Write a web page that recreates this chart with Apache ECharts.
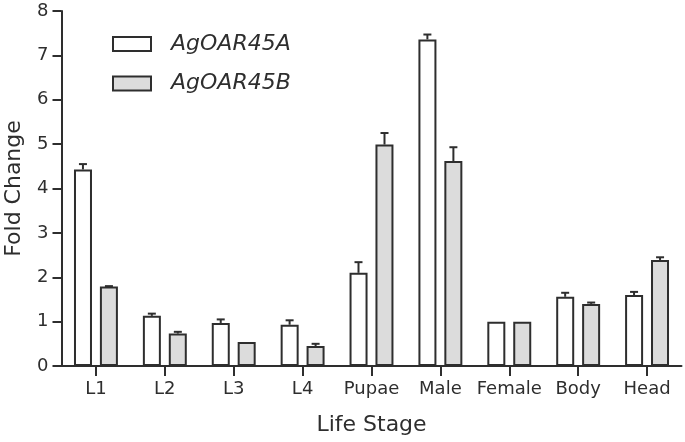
<!DOCTYPE html>
<html>
<head>
<meta charset="utf-8">
<script src="https://cdn.jsdelivr.net/npm/echarts@6/dist/echarts.min.js"></script>
<style>html,body{margin:0;padding:0;background:#fff;}#chart{width:685px;height:442px;}</style>
</head>
<body>
<div id="chart"></div>
<script>
const categories = ['L1', 'L2', 'L3', 'L4', 'Pupae', 'Male', 'Female', 'Body', 'Head'];
const seriesNames = ['AgOAR45A', 'AgOAR45B'];
const valuesA = [4.43, 1.13, 0.97, 0.93, 2.10, 7.36, 1.00, 1.56, 1.60];
const errorA  = [0.12, 0.05, 0.08, 0.10, 0.24, 0.11, 0.00, 0.09, 0.07];
const valuesB = [1.79, 0.73, 0.54, 0.45, 4.99, 4.62, 1.00, 1.40, 2.39];
const errorB  = [0.01, 0.04, 0.00, 0.05, 0.26, 0.31, 0.00, 0.03, 0.06];
const yTicks = [0, 1, 2, 3, 4, 5, 6, 7, 8];

const FONT = 'DejaVu Sans';
const INK = '#2e2e2e';
const BAR_W = 18, OFFSET = 13;

function errorSeries(vals, errs, off) {
  return {
    type: 'custom',
    silent: true,
    z: 5,
    data: vals.map((v, i) => [i, v, errs[i]]),
    renderItem: function (params, api) {
      const i = api.value(0), v = api.value(1), e = api.value(2);
      if (!e) return null;
      const base = api.coord([i, v]);
      const top = api.coord([i, v + e]);
      const x = base[0] + off;
      const style = { stroke: INK, lineWidth: 2 };
      return {
        type: 'group',
        children: [
          { type: 'line', shape: { x1: x, y1: base[1], x2: x, y2: top[1] }, style },
          { type: 'line', shape: { x1: x - 4, y1: top[1], x2: x + 4, y2: top[1] }, style }
        ]
      };
    }
  };
}

const chart = echarts.init(document.getElementById('chart'), null, { renderer: 'canvas' });
chart.setOption({
  animation: false,
  backgroundColor: '#fff',
  textStyle: { fontFamily: FONT, color: INK },
  grid: { left: 61.5, right: 3.5, top: 11, bottom: 76, containLabel: false, outerBoundsMode: 'none' },
  legend: {
    orient: 'vertical',
    left: 112,
    top: 33,
    padding: 0,
    itemWidth: 38,
    itemHeight: 14,
    itemGap: 17.5,
    icon: 'rect',
    data: seriesNames,
    textStyle: { fontFamily: FONT, fontStyle: 'italic', fontSize: 22, color: INK, padding: [0, 0, 0, 15] }
  },
  xAxis: {
    type: 'category',
    data: categories,
    name: 'Life Stage',
    nameLocation: 'middle',
    nameGap: 48,
    nameTextStyle: { fontFamily: FONT, fontSize: 22, color: INK },
    axisLine: { lineStyle: { color: INK, width: 2 } },
    axisTick: { show: true, alignWithLabel: true, length: 10, lineStyle: { color: INK, width: 2 } },
    axisLabel: { fontFamily: FONT, fontSize: 18, color: INK, margin: 14, interval: 0 },
    splitLine: { show: false }
  },
  yAxis: {
    type: 'value',
    min: yTicks[0],
    max: yTicks[yTicks.length - 1],
    interval: 1,
    name: 'Fold Change',
    nameLocation: 'middle',
    nameGap: 36,
    nameTextStyle: { fontFamily: FONT, fontSize: 22, color: INK },
    axisLine: { show: true, lineStyle: { color: INK, width: 2 } },
    axisTick: { show: true, length: 9, lineStyle: { color: INK, width: 2 } },
    axisLabel: { fontFamily: FONT, fontSize: 18, color: INK, margin: 13 },
    splitLine: { show: false }
  },
  series: [
    {
      name: seriesNames[0], type: 'bar', data: valuesA, barWidth: BAR_W, barGap: '44%',
      itemStyle: { color: '#ffffff', borderColor: INK, borderWidth: 2 }
    },
    {
      name: seriesNames[1], type: 'bar', data: valuesB, barWidth: BAR_W, barGap: '44%',
      itemStyle: { color: '#dcdcdc', borderColor: INK, borderWidth: 2 }
    },
    errorSeries(valuesA, errorA, -OFFSET),
    errorSeries(valuesB, errorB, OFFSET)
  ]
});
</script>
</body>
</html>
